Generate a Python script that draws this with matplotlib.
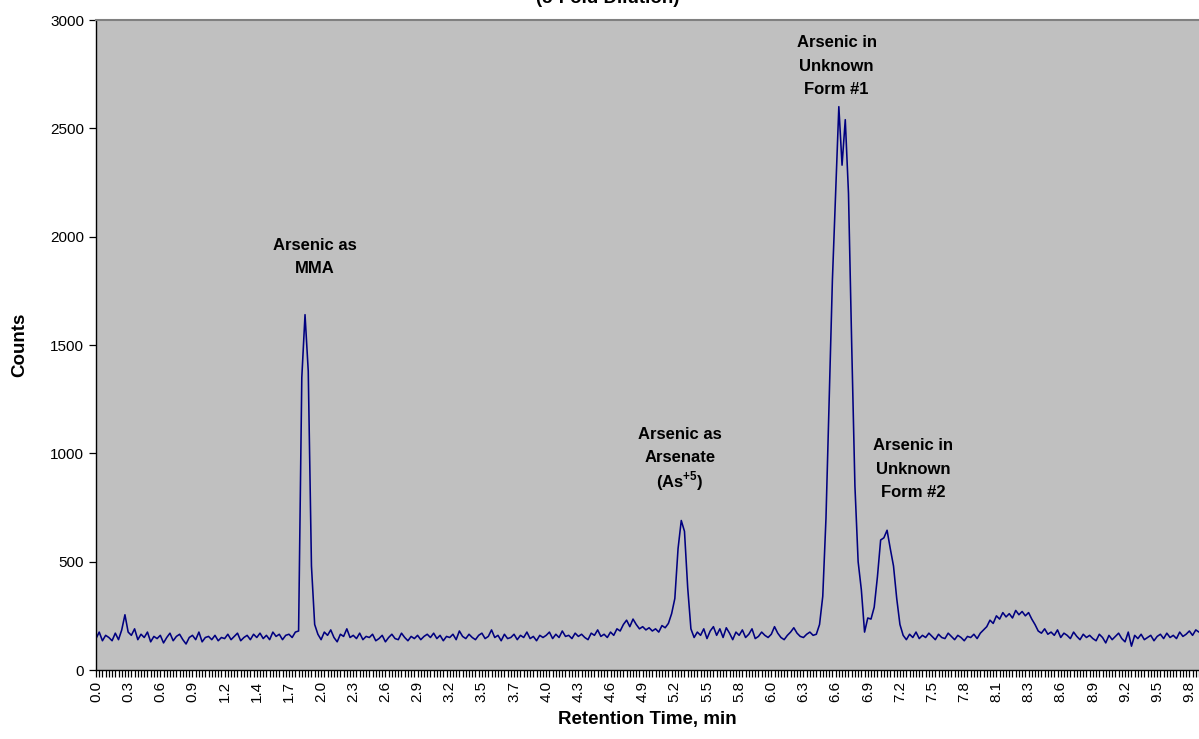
"""
Arsenic speciation chromatogram (5-fold dilution), redrawn from an Excel chart.
Counts are sampled once per category tick; every 10th category carries a time label.
"""

import matplotlib
matplotlib.use("Agg")
import matplotlib.pyplot as plt
import numpy as np

# retention time labels shown under every 10th sample
TIME_LABELS = ["0.0", "0.3", "0.6", "0.9", "1.2", "1.4", "1.7", "2.0", "2.3", "2.6",
               "2.9", "3.2", "3.5", "3.7", "4.0", "4.3", "4.6", "4.9", "5.2", "5.5",
               "5.8", "6.0", "6.3", "6.6", "6.9", "7.2", "7.5", "7.8", "8.1", "8.3",
               "8.6", "8.9", "9.2", "9.5", "9.8"]

# detector counts, one row per labelled interval (10 samples each)
COUNTS = [
    145, 175, 135, 160, 150, 135, 170, 140, 185, 255,
    175, 160, 190, 140, 165, 150, 175, 130, 155, 145,
    160, 125, 150, 170, 135, 155, 165, 140, 120, 150,
    160, 140, 175, 130, 150, 155, 140, 160, 135, 150,
    145, 165, 140, 155, 170, 135, 150, 160, 140, 165,
    150, 170, 145, 160, 140, 175, 155, 165, 140, 160,
    165, 150, 175, 180, 1350, 1640, 1380, 480, 210, 165,
    140, 175, 160, 185, 150, 130, 165, 155, 190, 150,
    160, 145, 170, 140, 155, 150, 165, 135, 145, 160,
    130, 150, 165, 145, 140, 170, 150, 135, 155, 145,
    160, 140, 155, 165, 150, 170, 145, 160, 135, 155,
    150, 165, 140, 180, 155, 145, 165, 150, 140, 160,
    170, 145, 155, 185, 150, 160, 135, 165, 145, 150,
    165, 140, 160, 150, 175, 145, 155, 135, 160, 150,
    160, 175, 145, 165, 150, 180, 155, 160, 145, 170,
    155, 165, 150, 140, 170, 160, 185, 155, 165, 150,
    175, 160, 190, 180, 210, 230, 200, 235, 210, 190,
    200, 185, 195, 180, 190, 175, 205, 195, 215, 260,
    330, 560, 690, 640, 380, 190, 150, 175, 160, 190,
    145, 180, 200, 160, 190, 150, 195, 170, 140, 175,
    160, 185, 150, 165, 190, 145, 155, 175, 160, 150,
    165, 200, 170, 150, 140, 160, 175, 195, 170, 155,
    150, 165, 175, 160, 165, 210, 340, 700, 1250, 1800,
    2200, 2600, 2330, 2540, 2200, 1500, 850, 500, 370, 175,
    240, 235, 290, 430, 600, 610, 645, 560, 480, 330,
    210, 160, 140, 165, 150, 175, 145, 160, 150, 170,
    155, 140, 165, 150, 145, 170, 155, 140, 160, 150,
    135, 155, 150, 165, 145, 170, 185, 200, 230, 215,
    250, 235, 265, 245, 260, 240, 275, 255, 270, 250,
    265, 235, 210, 180, 170, 190, 165, 175, 160, 185,
    150, 170, 160, 145, 175, 155, 140, 165, 150, 160,
    145, 135, 165, 150, 125, 160, 140, 155, 170, 145,
    130, 175, 110, 160, 145, 165, 140, 150, 160, 135,
    155, 165, 145, 170, 150, 160, 145, 175, 155, 165,
    180, 160, 185, 175,
]

# peak annotations: lines of text, sample index, counts at the first line
PEAK_TEXT = [["Arsenic as", "MMA"],
             ["Arsenic as", "Arsenate", "(As$^{+5}$)"],
             ["Arsenic in", "Unknown", "Form #1"],
             ["Arsenic in", "Unknown", "Form #2"]]
PEAK_POS = [68.0, 181.5, 230.3, 254.2]
PEAK_Y = [1961, 1089, 2894, 1034]
LINE_STEP = 108  # counts between annotation lines

Y_TICKS = [0, 500, 1000, 1500, 2000, 2500, 3000]

FONT = "Liberation Sans"


def plot_chromatogram() -> None:
    plt.rcParams["font.family"] = [FONT, "DejaVu Sans"]
    plt.rcParams["mathtext.fontset"] = "custom"
    plt.rcParams["mathtext.rm"] = FONT + ":bold"
    plt.rcParams["mathtext.bf"] = FONT + ":bold"

    counts = np.array(COUNTS)
    idx = np.arange(len(counts))

    fig = plt.figure(figsize=(11.99, 7.39), dpi=100)
    ax = fig.add_axes([96 / 1199, 69 / 739, 1103 / 1199, 650 / 739])
    ax.set_facecolor("#c0c0c0")

    ax.plot(idx, counts, color="#000080", lw=1.15)

    ax.set_xlim(0, len(counts) - 1)
    ax.set_ylim(0, 3000)

    ax.set_yticks(Y_TICKS)
    ax.set_yticklabels([str(v) for v in Y_TICKS], fontsize=11)
    ax.set_xticks(np.arange(len(TIME_LABELS)) * 10)
    ax.set_xticklabels(TIME_LABELS, rotation=90, fontsize=11)
    ax.set_xticks(idx, minor=True)
    ax.tick_params(axis="both", which="both", direction="out", length=5,
                   width=0.9, color="black")
    ax.tick_params(axis="x", which="major", pad=3)

    for side in ("left", "bottom"):
        ax.spines[side].set_color("black")
        ax.spines[side].set_linewidth(1.0)
    ax.spines["top"].set_color("#808080")
    ax.spines["top"].set_linewidth(1.5)
    ax.spines["right"].set_visible(False)

    for lines, x, y in zip(PEAK_TEXT, PEAK_POS, PEAK_Y):
        for k, line in enumerate(lines):
            ax.text(x, y - k * LINE_STEP, line, ha="center", va="center",
                    fontsize=12, fontweight="bold")

    ax.set_xlabel("Retention Time, min", fontsize=13.5, fontweight="bold", labelpad=6)
    ax.set_ylabel("Counts", fontsize=13.5, fontweight="bold", labelpad=16)

    # title is mostly cut off at the top of the picture
    fig.text(608 / 1199, 1 - 3 / 739, "(5-Fold Dilution)", ha="center",
             va="baseline", fontsize=13.5, fontweight="bold")

    plt.savefig("out.png", dpi=100)
    plt.close(fig)


def main() -> None:
    plot_chromatogram()


if __name__ == "__main__":
    main()
